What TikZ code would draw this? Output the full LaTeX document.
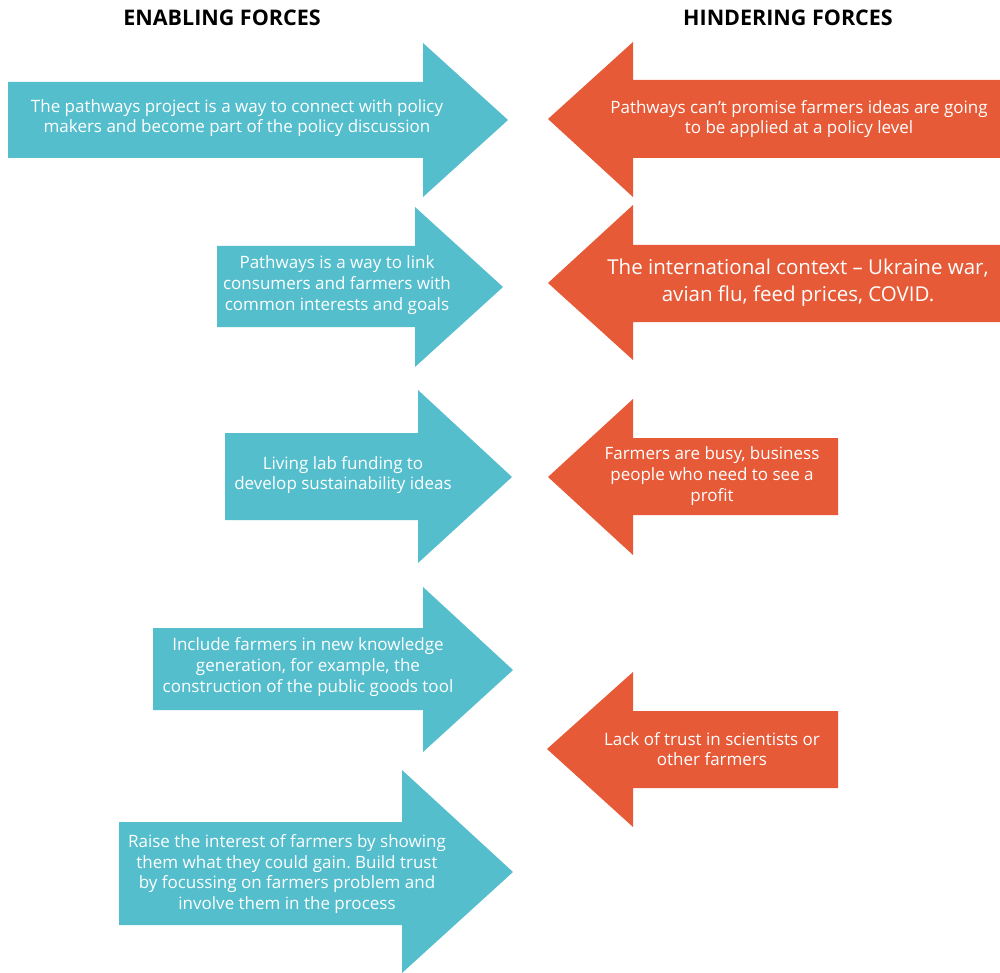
\documentclass[tikz,border=0pt]{standalone}
\usepackage{fontspec}
\setmainfont{Open Sans}
\frenchspacing
\begin{document}
\begin{tikzpicture}[x=1pt,y=-1pt,
  enabling/.style={fill={rgb,255:red,84;green,190;blue,205}},
  hindering/.style={fill={rgb,255:red,230;green,90;blue,56}},
  label/.style={text=white,align=center,inner sep=0pt,font=\fontsize{17}{20.7}\selectfont},
  biglabel/.style={text=white,align=center,inner sep=0pt,font=\fontsize{20.5}{27}\selectfont},
  heading/.style={font=\bfseries\fontsize{21.5}{24}\selectfont,inner sep=0pt}]
\fill[white] (0,0) rectangle (1000,973);
\useasboundingbox (0,0) rectangle (1000,973);

% column headings
\node[heading] (hEnable) at (222,18) {ENABLING FORCES};
\node[heading] (hHinder) at (788,18) {HINDERING FORCES};

% enabling forces: arrows pointing right
\fill[enabling] (8,82) -- (423,82) -- (423,43) -- (508,120) -- (423,197) -- (423,158) -- (8,158) -- cycle;
\node[label] (e1) at (237,118) {The pathways project is a way to connect with policy\\makers and become part of the policy discussion};

\fill[enabling] (217,246) -- (415,246) -- (415,207) -- (503,287) -- (415,367) -- (415,327) -- (217,327) -- cycle;
\node[label] (e2) at (337,285) {Pathways is a way to link\\consumers and farmers with\\common interests and goals};

\fill[enabling] (225,433) -- (418,433) -- (418,390) -- (512,477) -- (418,563) -- (418,520) -- (225,520) -- cycle;
\node[label] (e3) at (343,475) {Living lab funding to\\develop sustainability ideas};

\fill[enabling] (153,628) -- (423,628) -- (423,587) -- (513,670) -- (423,752) -- (423,710) -- (153,710) -- cycle;
\node[label] (e4) at (308,667) {Include farmers in new knowledge\\generation, for example, the\\construction of the public goods tool};

\fill[enabling] (119,822) -- (402,822) -- (402,770) -- (513,872) -- (402,973) -- (402,925) -- (119,925) -- cycle;
\node[label] (e5) at (287,874) {Raise the interest of farmers by showing\\them what they could gain. Build trust\\by focussing on farmers problem and\\involve them in the process};

% hindering forces: arrows pointing left
\fill[hindering] (1000,80) -- (633,80) -- (633,42) -- (548,119) -- (633,197) -- (633,158) -- (1000,158) -- cycle;
\node[label] (h1) at (799,119) {Pathways can't promise farmers ideas are going\\to be applied at a policy level};

\fill[hindering] (1000,245) -- (633,245) -- (633,205) -- (548,283) -- (633,360) -- (633,322) -- (1000,322) -- cycle;
\node[biglabel] (h2) at (798,283) {The international context -- Ukraine war,\\avian flu, feed prices, COVID.};

\fill[hindering] (838,438) -- (633,438) -- (633,399) -- (548,477) -- (633,555) -- (633,515) -- (838,515) -- cycle;
\node[label] (h3) at (712,476) {Farmers are busy, business\\people who need to see a\\profit};

\fill[hindering] (838,711) -- (633,711) -- (633,672) -- (547,749) -- (633,827) -- (633,788) -- (838,788) -- cycle;
\node[label] (h4) at (712,749) {Lack of trust in scientists or\\other farmers};
\end{tikzpicture}
\end{document}
